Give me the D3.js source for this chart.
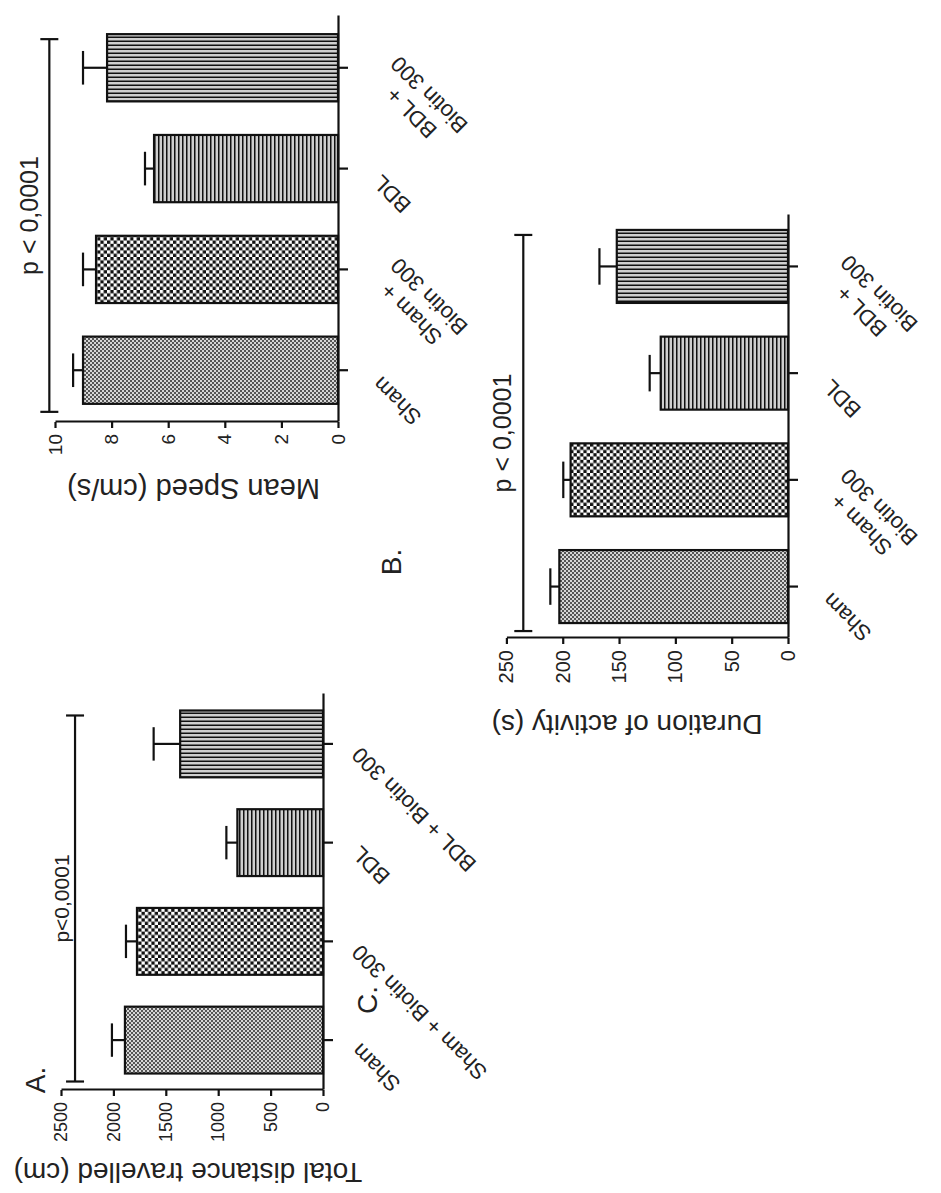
<!DOCTYPE html>
<html>
<head>
<meta charset="utf-8">
<script src="https://cdn.jsdelivr.net/npm/d3@7"></script>
<style>
html, body { margin: 0; padding: 0; background: #fff; }
svg { display: block; }
text { font-family: "Liberation Sans", Arial, sans-serif; fill: #222; }
</style>
</head>
<body>
<svg id="fig" width="941" height="1193"></svg>
<script>
// ---------------- data ----------------
const groups = ["Sham", "Sham + Biotin 300", "BDL", "BDL + Biotin 300"];
const labelsA = [["Sham"], ["Sham + Biotin 300"], ["BDL"], ["BDL + Biotin 300"]];
const labelsBC = [["Sham"], ["Sham +", "Biotin 300"], ["BDL"], ["BDL +", "Biotin 300"]];

const distanceMean = [1890, 1775, 817, 1363];
const distanceSEM  = [124, 105, 105, 253];
const distanceTicks = [0, 500, 1000, 1500, 2000, 2500];

const speedMean = [9.01, 8.55, 6.50, 8.16];
const speedSEM  = [0.35, 0.46, 0.32, 0.85];
const speedTicks = [0, 2, 4, 6, 8, 10];

const durationMean = [203, 193, 113, 152];
const durationSEM  = [8, 6.5, 9.8, 15.4];
const durationTicks = [0, 50, 100, 150, 200, 250];

const patterns = ["patSham", "patShamB", "patBDL", "patBDLB"];

// ---------------- layout ----------------
const panels = [
  { letter: "A.", title: "Total distance travelled (cm)", means: distanceMean, sem: distanceSEM,
    ticks: distanceTicks, max: 2500, p: "p<0,0001", bracket: 2366, labels: labelsA,
    X0: 323, H: 262, Yb: 1090, L: 396, pin: 0.323, pout: 0.167, pShift: 0,
    pGap: 6, pFont: 21, titleU: -72.7, titleV: -135, titleFont: 28, tickFont: 18,
    labelFont: 22, labelDx: -2, labelDy: 38, letterX: 35, letterY: 1080 },
  { letter: "B.", title: "Mean Speed (cm/s)", means: speedMean, sem: speedSEM,
    ticks: speedTicks, max: 10, p: "p < 0,0001", bracket: 10.2, labels: labelsBC,
    X0: 338, H: 283, Yb: 422, L: 406, pin: 0.333, pout: 0.18, pShift: 10,
    pGap: 11, pFont: 25, titleU: -57, titleV: -144.5, titleFont: 29, tickFont: 19,
    labelFont: 22, labelDx: -5, labelDy: 44, letterX: 391, letterY: 562 },
  { letter: "C.", title: "Duration of activity (s)", means: durationMean, sem: durationSEM,
    ticks: durationTicks, max: 250, p: "p < 0,0001", bracket: 235, labels: labelsBC,
    X0: 788, H: 281.6, Yb: 638, L: 423, pin: 0.316, pout: 0.14, pShift: 0,
    pGap: 12, pFont: 25, titleU: -77, titleV: -161, titleFont: 28, tickFont: 20,
    labelFont: 22, labelDx: -5, labelDy: 44, letterX: 367, letterY: 1000 }
];

const svg = d3.select("#fig");
const defs = svg.append("defs");

// fine checker (Sham)
let pt = defs.append("pattern").attr("id", "patSham").attr("patternUnits", "userSpaceOnUse")
  .attr("width", 4).attr("height", 4);
pt.append("rect").attr("width", 4).attr("height", 4).attr("fill", "#d6d6d6");
pt.append("rect").attr("width", 2).attr("height", 2).attr("fill", "#555");
pt.append("rect").attr("x", 2).attr("y", 2).attr("width", 2).attr("height", 2).attr("fill", "#555");
// coarse checker (Sham + Biotin)
pt = defs.append("pattern").attr("id", "patShamB").attr("patternUnits", "userSpaceOnUse")
  .attr("width", 6.6).attr("height", 6.6);
pt.append("rect").attr("width", 6.6).attr("height", 6.6).attr("fill", "#fff");
pt.append("rect").attr("width", 3.3).attr("height", 3.3).attr("fill", "#111");
pt.append("rect").attr("x", 3.3).attr("y", 3.3).attr("width", 3.3).attr("height", 3.3).attr("fill", "#111");
// stripes across the bar (BDL) -> lines of constant local y
pt = defs.append("pattern").attr("id", "patBDL").attr("patternUnits", "userSpaceOnUse")
  .attr("width", 10).attr("height", 4);
pt.append("rect").attr("width", 10).attr("height", 4).attr("fill", "#cfcfcf");
pt.append("rect").attr("width", 10).attr("height", 1.5).attr("fill", "#111");
// stripes along the bar (BDL + Biotin) -> lines of constant local x
pt = defs.append("pattern").attr("id", "patBDLB").attr("patternUnits", "userSpaceOnUse")
  .attr("width", 4).attr("height", 10);
pt.append("rect").attr("width", 4).attr("height", 10).attr("fill", "#cfcfcf");
pt.append("rect").attr("width", 1.5).attr("height", 10).attr("fill", "#111");

const ink = "#111";

panels.forEach(P => {
  // local frame = upright bar chart, rotated -90deg into the picture
  const g = svg.append("g").attr("transform", `translate(${P.X0},${P.Yb}) rotate(-90)`);
  const x = d3.scaleBand().domain(groups).range([0, P.L]).paddingInner(P.pin).paddingOuter(P.pout);
  const y = d3.scaleLinear().domain([0, P.max]).range([0, -P.H]);
  const bw = x.bandwidth();

  // bars
  g.selectAll("rect.bar").data(groups).join("rect").attr("class", "bar")
    .attr("x", d => x(d)).attr("width", bw)
    .attr("y", (d, i) => y(P.means[i])).attr("height", (d, i) => -y(P.means[i]))
    .attr("fill", (d, i) => `url(#${patterns[i]})`)
    .attr("stroke", ink).attr("stroke-width", 2.2);

  // error bars (upper only)
  groups.forEach((d, i) => {
    const cx = x(d) + bw / 2;
    const y0 = y(P.means[i]), y1 = y(P.means[i] + P.sem[i]);
    g.append("line").attr("x1", cx).attr("x2", cx).attr("y1", y0).attr("y2", y1)
      .attr("stroke", ink).attr("stroke-width", 2.2);
    g.append("line").attr("x1", cx - bw / 4).attr("x2", cx + bw / 4).attr("y1", y1).attr("y2", y1)
      .attr("stroke", ink).attr("stroke-width", 2.2);
  });

  // value axis
  const ya = g.append("g").call(d3.axisLeft(y).tickValues(P.ticks).tickFormat(d3.format("d"))
    .tickSize(6).tickSizeOuter(0).tickPadding(6));
  ya.attr("font-family", "Liberation Sans, Arial, sans-serif").attr("font-size", P.tickFont).attr("color", ink);
  ya.selectAll("path, line").attr("stroke-width", 2.2);
  ya.selectAll("text").attr("fill", "#222");

  // category axis
  const xa = g.append("g").call(d3.axisBottom(x).tickSize(10).tickSizeOuter(0).tickFormat(""));
  xa.attr("color", ink);
  xa.selectAll("path, line").attr("stroke-width", 2.2);

  // category labels
  P.labels.forEach((lines, i) => {
    const lg = g.append("g")
      .attr("transform", `translate(${x(groups[i]) + bw / 2 + P.labelDx},${P.labelDy}) rotate(-45)`)
      .attr("font-size", P.labelFont);
    if (lines.length === 1) {
      lg.append("text").attr("text-anchor", "end").text(lines[0]);
    } else {
      const ts = lines.map((t, k) => lg.append("text").attr("text-anchor", "middle")
        .attr("y", k * P.labelFont * 1.15).text(t));
      const wmax = d3.max(ts, t => t.node().getComputedTextLength());
      ts.forEach(t => t.attr("x", -wmax / 2));
    }
  });

  // significance bracket
  const u1 = x(groups[0]) - 8, u2 = x(groups[3]) + bw - 5, vb = y(P.bracket);
  g.append("line").attr("x1", u1).attr("x2", u2).attr("y1", vb).attr("y2", vb)
    .attr("stroke", ink).attr("stroke-width", 2.2);
  [u1, u2].forEach(u => g.append("line").attr("x1", u).attr("x2", u)
    .attr("y1", vb - 9).attr("y2", vb + 9).attr("stroke", ink).attr("stroke-width", 2.2));
  g.append("text").attr("x", (u1 + u2) / 2 + P.pShift).attr("y", vb - P.pGap)
    .attr("text-anchor", "middle").attr("font-size", P.pFont).text(P.p);

  // axis title
  g.append("text").attr("transform", `translate(${P.titleU},${P.titleV}) rotate(-90)`)
    .attr("text-anchor", "middle").attr("font-size", P.titleFont).text(P.title);

  // panel letter
  svg.append("text").attr("transform", `translate(${P.letterX},${P.letterY}) rotate(-90)`)
    .attr("text-anchor", "middle").attr("dy", "0.36em").attr("font-size", 28).text(P.letter);
});
</script>
</body>
</html>
